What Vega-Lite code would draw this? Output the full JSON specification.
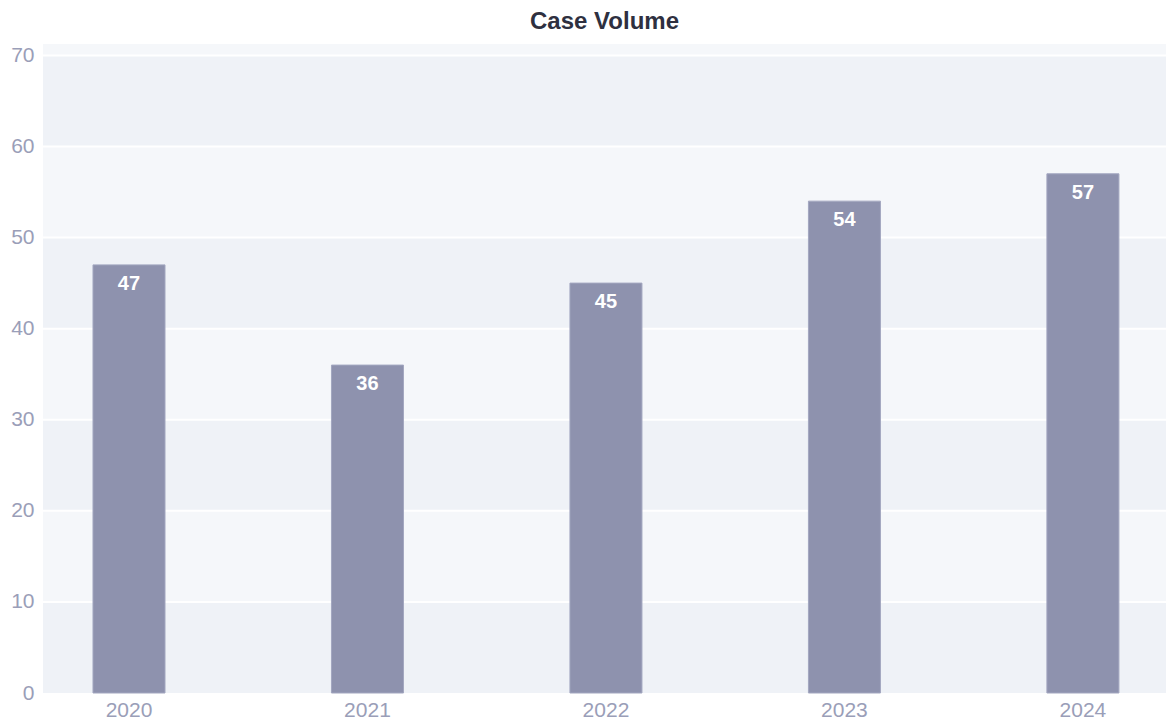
{
  "$schema": "https://vega.github.io/schema/vega-lite/v6.json",
  "autosize": {"type": "none"},
  "width": 1123,
  "height": 649,
  "padding": {"left": 43, "top": 44, "right": 0, "bottom": 27},
  "background": "white",
  "title": {"text": "Case Volume", "font": "Liberation Sans", "fontSize": 24, "fontWeight": "bold", "color": "#2e3040", "anchor": "middle", "offset": 10},
  "config": {"view": {"stroke": null, "fill": "#f5f7fa"}},
  "datasets": {
    "bars": [
      {"year": "2020", "cases": 47},
      {"year": "2021", "cases": 36},
      {"year": "2022", "cases": 45},
      {"year": "2023", "cases": 54},
      {"year": "2024", "cases": 57}
    ],
    "bands": [
      {"lo": 0, "hi": 10},
      {"lo": 20, "hi": 30},
      {"lo": 40, "hi": 50},
      {"lo": 60, "hi": 70}
    ],
    "grid": [
      {"v": 10}, {"v": 20}, {"v": 30}, {"v": 40}, {"v": 50}, {"v": 60}, {"v": 70}
    ]
  },
  "layer": [
    {
      "data": {"name": "bands"},
      "mark": {"type": "rect", "color": "#eff2f7"},
      "encoding": {
        "y": {"field": "lo", "type": "quantitative", "scale": {"domain": [0, 71.25], "nice": false},
          "axis": {"title": null, "values": [0, 10, 20, 30, 40, 50, 60, 70], "labelFont": "Liberation Sans", "labelFontSize": 21, "labelColor": "#9a9eb8", "domain": false, "ticks": false, "labelPadding": 9, "grid": false}},
        "y2": {"field": "hi"}
      }
    },
    {
      "data": {"name": "grid"},
      "mark": {"type": "rule", "color": "white", "strokeWidth": 2},
      "encoding": {
        "y": {"field": "v", "type": "quantitative"}
      }
    },
    {
      "data": {"name": "bars"},
      "mark": {"type": "bar", "color": "#8e92ae", "stroke": "#a3a7c0", "strokeWidth": 1},
      "encoding": {
        "x": {"field": "year", "type": "nominal", "scale": {"paddingInner": 0.698, "paddingOuter": 0.2035, "align": 0.515},
          "axis": {"title": null, "labelAngle": 0, "labelFont": "Liberation Sans", "labelFontSize": 21, "labelColor": "#9a9eb8", "domain": false, "ticks": false, "labelPadding": 6}},
        "y": {"field": "cases", "type": "quantitative"}
      }
    },
    {
      "data": {"name": "bars"},
      "mark": {"type": "text", "color": "white", "font": "Liberation Sans", "fontSize": 20, "fontWeight": "bold", "baseline": "top", "dy": 9},
      "encoding": {
        "x": {"field": "year", "type": "nominal"},
        "y": {"field": "cases", "type": "quantitative"},
        "text": {"field": "cases", "type": "quantitative"}
      }
    }
  ]
}
